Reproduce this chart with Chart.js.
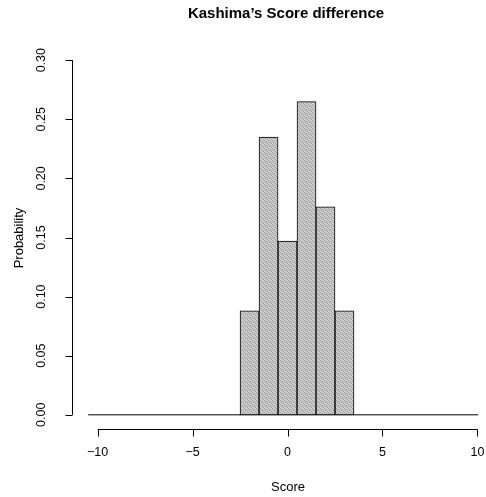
<!DOCTYPE html>
<html>
<head>
<meta charset="utf-8">
<script src="https://cdn.jsdelivr.net/npm/chart.js@4"></script>
<style>
  html, body { margin: 0; padding: 0; background: #fff; }
  canvas { display: block; }
</style>
</head>
<body>
<canvas id="chart" width="486" height="497"></canvas>
<script>
// histogram bins (centres) and probabilities
const bins = [-10, -9, -8, -7, -6, -5, -4, -3, -2, -1, 0, 1, 2, 3, 4, 5, 6, 7, 8, 9, 10]
const probs = [0, 0, 0, 0, 0, 0, 0, 0, 0.088, 0.235, 0.147, 0.265, 0.176, 0.088, 0, 0, 0, 0, 0, 0, 0]
const xTicks = [-10, -5, 0, 5, 10]
const yTicks = [0, 0.05, 0.10, 0.15, 0.20, 0.25, 0.30]
const title = "Kashima\u2019s Score difference"
const xTitle = "Score"
const yTitle = "Probability"

const FONT = '"Liberation Sans", Helvetica, Arial, sans-serif'

// grey stipple fill like the R plot
const makePattern = () => {
    let pc = document.createElement("canvas")
    pc.width = 4
    pc.height = 4
    let p = pc.getContext("2d")
    p.fillStyle = "#c6c6c6"
    p.fillRect(0, 0, 4, 4)
    p.fillStyle = "#9c9c9c"
    p.fillRect(0, 0, 1, 1)
    p.fillRect(2, 1, 1, 1)
    p.fillRect(1, 2, 1, 1)
    p.fillRect(3, 3, 1, 1)
    p.fillStyle = "#dadada"
    p.fillRect(2, 0, 1, 1)
    p.fillRect(0, 3, 1, 1)
    return p.createPattern(pc, "repeat")
}

const fmtX = v => v < 0 ? "\u2212" + Math.abs(v) : String(v)

// R style detached axes
const rAxes = {
    id: "rAxes",
    afterDraw(chart) {
        const ctx = chart.ctx
        const area = chart.chartArea
        const xs = chart.scales.x
        const ys = chart.scales.y
        const tick = 7
        ctx.save()
        ctx.strokeStyle = "#000"
        ctx.fillStyle = "#000"
        ctx.lineWidth = 1

        // y axis
        let x0 = Math.round(area.left) + 0.5
        let yTop = ys.getPixelForValue(yTicks[yTicks.length - 1])
        let yBot = ys.getPixelForValue(yTicks[0])
        ctx.beginPath()
        ctx.moveTo(x0, yTop)
        ctx.lineTo(x0, yBot)
        yTicks.forEach(v => {
            let y = Math.round(ys.getPixelForValue(v)) + 0.5
            ctx.moveTo(x0 - tick, y)
            ctx.lineTo(x0, y)
        })
        ctx.stroke()
        ctx.font = "12.5px " + FONT
        ctx.textAlign = "center"
        ctx.textBaseline = "middle"
        yTicks.forEach(v => {
            let y = ys.getPixelForValue(v)
            ctx.save()
            ctx.translate(42, y)
            ctx.rotate(-Math.PI / 2)
            ctx.fillText(v.toFixed(2), 0, 0)
            ctx.restore()
        })

        // x axis
        let y0 = Math.round(area.bottom) + 0.5
        let xL = xs.getPixelForValue(xTicks[0])
        let xR = xs.getPixelForValue(xTicks[xTicks.length - 1])
        ctx.beginPath()
        ctx.moveTo(xL, y0)
        ctx.lineTo(xR, y0)
        xTicks.forEach(v => {
            let x = Math.round(xs.getPixelForValue(v)) + 0.5
            ctx.moveTo(x, y0)
            ctx.lineTo(x, y0 + tick)
        })
        ctx.stroke()
        xTicks.forEach(v => {
            ctx.fillText(fmtX(v), xs.getPixelForValue(v), 453)
        })

        // titles
        ctx.font = "13px " + FONT
        ctx.fillText(xTitle, 288, 487)
        ctx.save()
        ctx.translate(19, 238)
        ctx.rotate(-Math.PI / 2)
        ctx.fillText(yTitle, 0, 0)
        ctx.restore()
        ctx.font = "bold 15px " + FONT
        ctx.fillText(title, 286, 14)
        ctx.restore()
    }
}

const barData = bins
    .map((b, i) => ({ x: b, y: probs[i] }))
    .filter(d => d.y > 0)

new Chart(document.getElementById("chart"), {
    type: "bar",
    data: {
        datasets: [
            {
                type: "line",
                data: [
                    { x: bins[0] - 0.5, y: 0 },
                    { x: bins[bins.length - 1] + 0.5, y: 0 }
                ],
                borderColor: "#000",
                borderWidth: 1,
                pointRadius: 0,
                order: 2
            },
            {
                type: "bar",
                data: barData,
                backgroundColor: makePattern(),
                borderColor: "#000",
                borderWidth: 1,
                borderSkipped: false,
                barPercentage: 1,
                categoryPercentage: 1,
                order: 1
            }
        ]
    },
    options: {
        responsive: false,
        animation: false,
        devicePixelRatio: 1,
        layout: { padding: { left: 72, right: 8, top: 46, bottom: 68 } },
        plugins: { legend: { display: false }, tooltip: { enabled: false } },
        scales: {
            x: { type: "linear", min: -11.35, max: 10.03, offset: false, display: false },
            y: { min: -0.012, max: 0.312, display: false }
        }
    },
    plugins: [rAxes]
})
</script>
</body>
</html>
